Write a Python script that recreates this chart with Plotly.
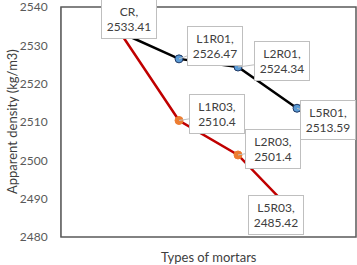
import plotly.graph_objects as go

categories = ["CR", "L1", "L2", "L5"]
labels_r01 = ["CR", "L1R01", "L2R01", "L5R01"]
labels_r03 = ["CR", "L1R03", "L2R03", "L5R03"]
values_r01 = [2533.41, 2526.47, 2524.34, 2513.59]
values_r03 = [2533.41, 2510.4, 2501.4, 2485.42]
y_ticks = [2480, 2490, 2500, 2510, 2520, 2530, 2540]

xpos = list(range(len(categories)))
FONT = "Lato, Carlito, Calibri, sans-serif"

fig = go.Figure()
fig.add_trace(go.Scatter(
    x=xpos, y=values_r03, mode="lines+markers",
    line=dict(color="#c00000", width=2.5),
    marker=dict(size=8, color="#ed7d31", line=dict(color="#ed7d31", width=1)),
    showlegend=False, cliponaxis=False, hoverinfo="skip"))
fig.add_trace(go.Scatter(
    x=xpos, y=values_r01, mode="lines+markers",
    line=dict(color="#000000", width=2.5),
    marker=dict(size=8, color="#5b9bd5", line=dict(color="#1f3864", width=1)),
    showlegend=False, cliponaxis=False, hoverinfo="skip"))

# label offsets (pixels) relative to data point: style only
offs_r01 = [(9, -13), (36, -13), (44, -6), (31, 12)]
offs_r03 = [None, (38, -6), (35, -6), (-21, -1)]

def add_label(x, y, name, off):
    fig.add_annotation(
        x=x, y=y, xref="x", yref="y",
        text=f"{name},<br>{y:.2f}" if name == "CR" else f"{name},<br>{y:g}",
        showarrow=True, arrowhead=0, arrowwidth=1, arrowcolor="#bfbfbf",
        ax=off[0], ay=off[1], axref="pixel", ayref="pixel",
        bgcolor="white", bordercolor="#bfbfbf", borderwidth=1, borderpad=2,
        width=50, height=34,
        font=dict(family=FONT, size=12, color="#404040"),
    )

for i in range(len(categories)):
    add_label(xpos[i], values_r01[i], labels_r01[i], offs_r01[i])
for i in range(1, len(categories)):
    add_label(xpos[i], values_r03[i], labels_r03[i], offs_r03[i])

# axis titles
fig.add_annotation(text="Apparent density (kg/m3)", xref="paper", yref="paper",
                   x=-0.166, y=0.5, xanchor="center", yanchor="middle",
                   textangle=-90, showarrow=False,
                   font=dict(family=FONT, size=13, color="#404040"))
fig.add_annotation(text="Types of mortars", xref="paper", yref="paper",
                   x=0.5, y=-0.087, xanchor="center", yanchor="middle",
                   showarrow=False,
                   font=dict(family=FONT, size=13, color="#404040"))

fig.update_layout(
    width=357, height=265,
    margin=dict(l=61, r=1, t=7, b=28, autoexpand=False),
    paper_bgcolor="white", plot_bgcolor="white",
    xaxis=dict(range=[-1, len(categories)], showticklabels=False, showgrid=False,
               zeroline=False, showline=False, ticks="", automargin=False),
    yaxis=dict(range=[2480, 2540], tickvals=y_ticks, showgrid=False, zeroline=False,
               showline=True, linecolor="#bfbfbf", linewidth=1, ticks="",
               tickfont=dict(family=FONT, size=12, color="#595959"),
               automargin=False, ticklabelstandoff=10, ticklabeloverflow="allow"),
    shapes=[dict(type="rect", xref="paper", yref="paper", x0=0, y0=0, x1=1, y1=1,
                 line=dict(color="#595959", width=1.5), layer="above")],
)

fig.write_html("out.html", config={"displayModeBar": False},
               post_script="document.body.style.margin='0';document.body.style.overflow='hidden';")
